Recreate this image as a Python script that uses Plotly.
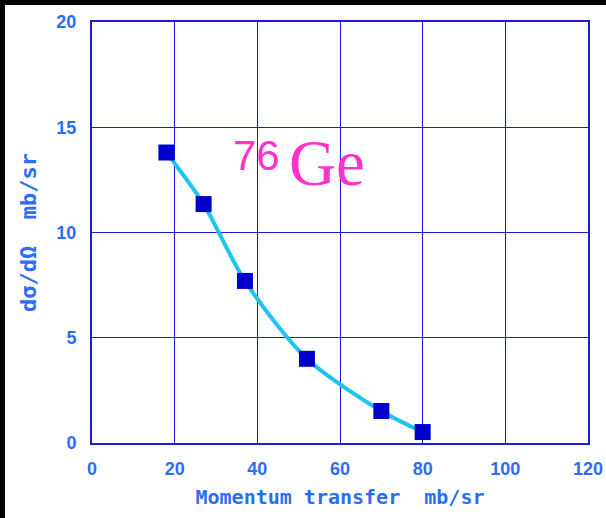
import plotly.graph_objects as go

# Data
momentum = [18, 27, 37, 52, 70, 80]
cross_section = [13.8, 11.35, 7.7, 4.0, 1.52, 0.52]

x_ticks = [0, 20, 40, 60, 80, 100, 120]
y_ticks = [0, 5, 10, 15, 20]

label_blue = "#2c6ef2"
grid_blue = "#1c1cd6"
pink = "#ff33cc"

fig = go.Figure()
fig.add_trace(go.Scatter(
    x=momentum, y=cross_section, mode="lines",
    line=dict(color="#1ec4f2", width=4, shape="spline", smoothing=0.8),
    hoverinfo="skip", showlegend=False))
fig.add_trace(go.Scatter(
    x=momentum, y=cross_section, mode="markers",
    marker=dict(symbol="square", size=16, color="#0000cc", line=dict(width=0)),
    showlegend=False))

fig.add_annotation(
    x=33.6, y=12.45, xref="x", yref="y", xanchor="left", yanchor="bottom",
    text="76", showarrow=False,
    font=dict(family="Liberation Sans, Arial, sans-serif", size=42, color=pink))
fig.add_annotation(
    x=47.2, y=11.5, xref="x", yref="y", xanchor="left", yanchor="bottom",
    text="Ge", showarrow=False,
    font=dict(family="Liberation Serif, Times New Roman, serif", size=65, color=pink))

# black strips at top and left edges of the picture
W, H = 606, 518
L, R, T, B = 92, 18, 22, 75
pw, ph = W - L - R, H - T - B
fig.add_shape(type="rect", xref="paper", yref="paper",
              x0=-L / pw, x1=(W - L) / pw, y0=(H - B - 5) / ph, y1=(H - B) / ph,
              fillcolor="black", line=dict(width=0), layer="above")
fig.add_shape(type="rect", xref="paper", yref="paper",
              x0=-L / pw, x1=(5 - L) / pw, y0=-B / ph, y1=(H - B) / ph,
              fillcolor="black", line=dict(width=0), layer="above")

tickfont = dict(family="Liberation Sans Narrow, Arial Narrow, Arial, sans-serif",
                size=18, color=label_blue, weight="bold")
xtitlefont = dict(family="DejaVu Sans Mono, monospace", size=20, color=label_blue,
                  weight="bold")
ytitlefont = dict(family="DejaVu Sans Mono, monospace", size=22, color=label_blue,
                  weight="bold")

fig.update_xaxes(range=[0, 120], tickvals=x_ticks, showgrid=True, gridcolor=grid_blue,
                 gridwidth=1, showline=True, linecolor=grid_blue, linewidth=2, mirror=True,
                 zeroline=False, ticks="", tickfont=tickfont, ticklabelstandoff=8,
                 automargin=False,
                 title=dict(text="Momentum transfer  mb/sr\u00a0", font=xtitlefont,
                            standoff=12))
fig.update_yaxes(range=[0, 20], tickvals=y_ticks, showgrid=True, gridcolor=grid_blue,
                 gridwidth=1, showline=True, linecolor=grid_blue, linewidth=2, mirror=True,
                 zeroline=False, ticks="", tickfont=tickfont, ticklabelstandoff=10,
                 automargin=False,
                 title=dict(text="dσ/dΩ  mb/sr\u00a0", font=ytitlefont, standoff=14))

fig.update_layout(
    width=W, height=H,
    margin=dict(l=L, r=R, t=T, b=B, autoexpand=False),
    paper_bgcolor="white", plot_bgcolor="white",
    showlegend=False)

fig.write_html("out.html")
